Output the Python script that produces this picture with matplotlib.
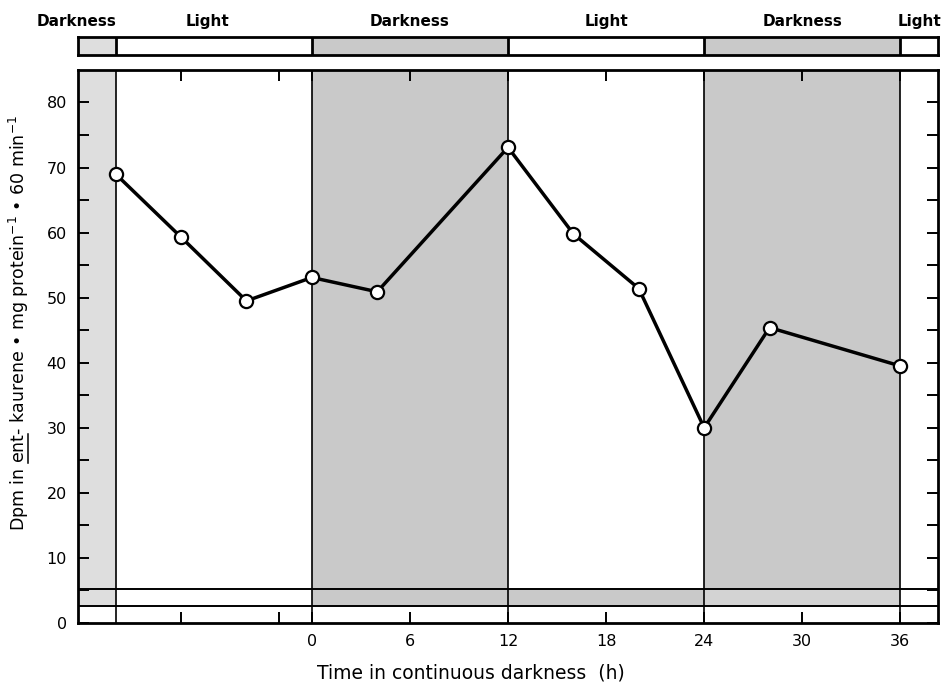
import matplotlib
matplotlib.use("Agg")
import matplotlib.pyplot as plt
from matplotlib.lines import Line2D

# time (h) relative to start of continuous darkness, and ent-kaurene activity
hours = [-12, -8, -4, 0, 4, 12, 16, 20, 24, 28, 36]
dpm = [69.0, 59.3, 49.5, 53.1, 50.9, 73.1, 59.8, 51.4, 30.0, 45.4, 39.5]

# light/dark schedule shown in the top bar and as shading
dark_periods = [(-24, -12), (0, 12), (24, 36)]
period_edges = [-12, 0, 12, 24, 36]
bar_labels = ["Darkness", "Light", "Darkness", "Light", "Darkness", "Light"]
bar_label_x = [-14.4, -6.4, 6, 18, 30, 37.2]

# continuous-darkness strip near the bottom of the plot
strip_periods = [(-24, -12), (0, 24), (24, 36)]

x_ticks = [0, 6, 12, 18, 24, 30, 36]
x_minor = [-8, -2]
y_ticks = [0, 10, 20, 30, 40, 50, 60, 70, 80]

XMIN, XMAX = -14.3, 38.3
YMIN, YMAX = 0, 85
STRIP_LO, STRIP_HI = 2.6, 5.2

plt.rcParams["font.family"] = ["DejaVu Sans"]
plt.rcParams["mathtext.fontset"] = "custom"
plt.rcParams["mathtext.rm"] = "DejaVu Sans"
plt.rcParams["mathtext.default"] = "rm"

fig = plt.figure(figsize=(9.46, 6.82), dpi=100)
ax = fig.add_axes([0.0825, 0.0865, 0.909, 0.811])
bar = fig.add_axes([0.0825, 0.9194, 0.909, 0.0263])

dark_color = "#c9c9c9"
pale_color = "#dedede"

# main plot shading
for (a, b) in dark_periods:
    c = pale_color if b <= -12 else dark_color
    ax.fill_between([a, b], STRIP_HI, YMAX, color=c, lw=0, zorder=0)
for (a, b) in strip_periods:
    c = pale_color if b <= -12 else ("#d3d3d3" if a >= 24 else dark_color)
    ax.fill_between([a, b], STRIP_LO, STRIP_HI, color=c, lw=0, zorder=0)

for e in period_edges:
    ax.axvline(e, color="black", lw=1.2, zorder=1)
ax.axhline(STRIP_LO, color="black", lw=1.4, zorder=1)
ax.axhline(STRIP_HI, color="black", lw=1.4, zorder=1)

ax.plot(hours, dpm, color="black", lw=2.5, marker="o", ms=9.5,
        mfc="white", mec="black", mew=1.6, zorder=3)

ax.set_xlim(XMIN, XMAX)
ax.set_ylim(YMIN, YMAX)
ax.set_xticks(x_ticks)
ax.set_xticklabels([str(t) for t in x_ticks], fontsize=11.5)
ax.set_xticks(x_minor, minor=True)
ax.set_yticks(y_ticks)
ax.set_yticklabels([str(t) for t in y_ticks], fontsize=11.5)
ax.set_yticks(range(5, 85, 10), minor=True)
ax.tick_params(which="both", direction="in", top=True, right=True,
               length=8, width=1.4, pad=8)
for s in ax.spines.values():
    s.set_linewidth(2)

YLAB_FS = 12.5
ax.set_xlabel("Time in continuous darkness  (h)", fontsize=13.5)
ax.xaxis.set_label_coords(0.457, -0.074)
ax.set_ylabel("Dpm in ent- kaurene • mg protein$^{-1}$ • 60 min$^{-1}$",
              fontsize=YLAB_FS)
ax.yaxis.set_label_coords(-0.055, 0.542)

# top light/dark bar
bar.set_xlim(XMIN, XMAX)
bar.set_ylim(0, 1)
for (a, b) in dark_periods:
    c = pale_color if b <= -12 else dark_color
    bar.fill_between([a, b], 0, 1, color=c, lw=0)
for e in period_edges:
    bar.axvline(e, color="black", lw=2)
bar.set_xticks([])
bar.set_yticks([])
for s in bar.spines.values():
    s.set_linewidth(2)
for lab, xp in zip(bar_labels, bar_label_x):
    bar.text(xp, 1.45, lab, ha="center", va="bottom", fontsize=11,
             fontweight="bold", clip_on=False)

# underline "ent" in the rotated y label
fig.canvas.draw()
r = fig.canvas.get_renderer()
lb = ax.yaxis.label.get_window_extent(r)
tmp1 = fig.text(0, 0, "Dpm in ent", fontsize=YLAB_FS)
tmp2 = fig.text(0, 0, "ent", fontsize=YLAB_FS)
w1 = tmp1.get_window_extent(r).width
w2 = tmp2.get_window_extent(r).width
tmp1.remove()
tmp2.remove()
H = fig.bbox.height
W = fig.bbox.width
ux = (lb.x1 - 2.5) / W
fig.add_artist(Line2D([ux, ux], [(lb.y0 + w1 - w2) / H, (lb.y0 + w1) / H],
                      transform=fig.transFigure, color="black", lw=1.1))

plt.savefig("out.png", dpi=100)
plt.close()
